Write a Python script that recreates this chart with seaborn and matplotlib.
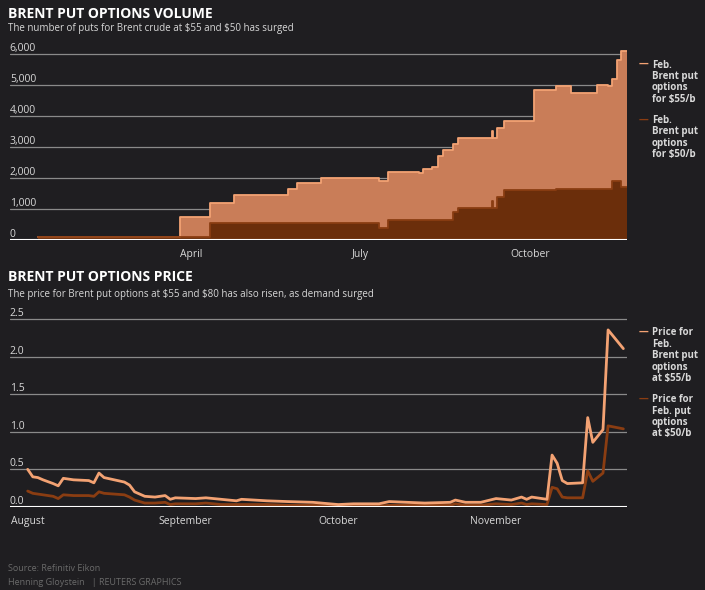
import pandas as pd
import matplotlib.pyplot as plt
import matplotlib.transforms as mtrans
import seaborn as sns

# volume data (step changes)
vol_dates = ["2019-01-08", "2019-03-26", "2019-04-11", "2019-04-24", "2019-05-23", "2019-05-28",
             "2019-06-10", "2019-07-11", "2019-07-16", "2019-08-02", "2019-08-04", "2019-08-09",
             "2019-08-12", "2019-08-15", "2019-08-20", "2019-08-23", "2019-09-10", "2019-09-11",
             "2019-09-13", "2019-09-17", "2019-10-03", "2019-10-15", "2019-10-23", "2019-11-06",
             "2019-11-12", "2019-11-14", "2019-11-17", "2019-11-19", "2019-11-22"]
vol_55 = [100, 750, 1200, 1450, 1650, 1850, 2000, 1900, 2200, 2150, 2300, 2350, 2700, 2900, 3100,
          3300, 3500, 3300, 3600, 3850, 4850, 4950, 4750, 5000, 4950, 5200, 5800, 6100, 6100]
vol_50 = [100, 100, 550, 550, 550, 550, 550, 400, 650, 650, 650, 650, 650, 650, 900,
          1050, 1250, 1050, 1400, 1600, 1600, 1650, 1650, 1650, 1650, 1900, 1900, 1700, 1700]
vol_ticks = [0, 1000, 2000, 3000, 4000, 5000, 6000]
vol_months = ["2019-04-01", "2019-07-01", "2019-10-01"]
vol_month_labels = ["April", "July", "October"]

# price data
price_dates = ["2019-08-01", "2019-08-02", "2019-08-03", "2019-08-04", "2019-08-06", "2019-08-07",
               "2019-08-08", "2019-08-10", "2019-08-13", "2019-08-14", "2019-08-15", "2019-08-16",
               "2019-08-20", "2019-08-21", "2019-08-22", "2019-08-24", "2019-08-26", "2019-08-28",
               "2019-08-29", "2019-08-30", "2019-09-03", "2019-09-05", "2019-09-08", "2019-09-11",
               "2019-09-12", "2019-09-17", "2019-09-21", "2019-09-26", "2019-10-01", "2019-10-04",
               "2019-10-09", "2019-10-11", "2019-10-18", "2019-10-23", "2019-10-24", "2019-10-26",
               "2019-10-29", "2019-11-01", "2019-11-04", "2019-11-06", "2019-11-07", "2019-11-08",
               "2019-11-11", "2019-11-12", "2019-11-13", "2019-11-14", "2019-11-15", "2019-11-18",
               "2019-11-19", "2019-11-20", "2019-11-22", "2019-11-23", "2019-11-26"]
price_55 = [0.50, 0.40, 0.39, 0.36, 0.31, 0.28, 0.38, 0.36, 0.35, 0.32, 0.45, 0.39,
            0.33, 0.29, 0.20, 0.14, 0.13, 0.15, 0.10, 0.12, 0.11, 0.12, 0.10, 0.08,
            0.10, 0.08, 0.07, 0.06, 0.03, 0.04, 0.04, 0.07, 0.05, 0.06, 0.09, 0.06,
            0.06, 0.11, 0.09, 0.13, 0.10, 0.13, 0.10, 0.69, 0.58, 0.35, 0.31, 0.32,
            1.19, 0.86, 1.03, 2.36, 2.11]
price_50 = [0.21, 0.18, 0.17, 0.16, 0.14, 0.11, 0.16, 0.15, 0.15, 0.14, 0.20, 0.18,
            0.16, 0.13, 0.09, 0.05, 0.05, 0.06, 0.03, 0.04, 0.04, 0.05, 0.03, 0.03,
            0.03, 0.03, 0.02, 0.02, 0.01, 0.01, 0.01, 0.02, 0.02, 0.02, 0.04, 0.02,
            0.02, 0.04, 0.03, 0.05, 0.03, 0.04, 0.03, 0.26, 0.24, 0.13, 0.12, 0.12,
            0.48, 0.34, 0.45, 1.08, 1.04]
price_ticks = [0.0, 0.5, 1.0, 1.5, 2.0, 2.5]
price_months = ["2019-08-01", "2019-09-01", "2019-10-01", "2019-11-01"]
price_month_labels = ["August", "September", "October", "November"]

BG = "#1f1e21"
LIGHT = "#f3a273"
LIGHT_FILL = "#c97d58"
DARK = "#8a3d12"
DARK_FILL = "#6b2e0b"
GRID = "#8a8a8a"
TXT = "#d8d8d8"

sns.set_style("dark")
plt.rcParams['font.family'] = ['Open Sans', 'DejaVu Sans']

vol = pd.DataFrame({"date": pd.to_datetime(vol_dates), "v55": vol_55, "v50": vol_50})
price = pd.DataFrame({"date": pd.to_datetime(price_dates), "p55": price_55, "p50": price_50})

fig = plt.figure(figsize=(7.05, 5.9), dpi=100, facecolor=BG)
ax1 = fig.add_axes([0.014, 0.593, 0.875, 0.329])
ax2 = fig.add_axes([0.014, 0.141, 0.875, 0.324])


def style_axis(ax, ticks, fmt):
    ax.set_facecolor(BG)
    for s in ax.spines.values():
        s.set_visible(False)
    ax.set_yticks([])
    trans = mtrans.blended_transform_factory(ax.transAxes, ax.transData)
    for t in ticks:
        if t > 0:
            ax.axhline(t, color=GRID, lw=0.9, zorder=0)
        ax.text(0.0, t, fmt(t), transform=trans, color=TXT, fontsize=7.5,
                ha="left", va="bottom")
    ax.axhline(0, color="white", lw=1.5, zorder=5)
    ax.grid(False)
    ax.set_xlabel("")
    ax.set_ylabel("")
    ax.tick_params(axis="x", colors=TXT, labelsize=7.5, length=3, width=0.8, color=GRID)


# top: volume areas
ax1.fill_between(vol["date"], vol["v55"], step="post", color=LIGHT_FILL, lw=0, zorder=2)
ax1.fill_between(vol["date"], vol["v50"], step="post", color=DARK_FILL, lw=0, zorder=3)
sns.lineplot(data=vol, x="date", y="v55", drawstyle="steps-post", color=LIGHT, lw=1.3, ax=ax1, zorder=4)
sns.lineplot(data=vol, x="date", y="v50", drawstyle="steps-post", color=DARK, lw=1.3, ax=ax1, zorder=4)
ax1.set_xlim(pd.Timestamp("2018-12-24"), pd.Timestamp("2019-11-22"))
ax1.set_ylim(0, 6250)
style_axis(ax1, vol_ticks, lambda t: f"{t:,}")
ax1.set_xticks(pd.to_datetime(vol_months))
ax1.set_xticklabels(vol_month_labels)

# bottom: prices
sns.lineplot(data=price, x="date", y="p50", color=DARK, lw=2, ax=ax2, zorder=3)
sns.lineplot(data=price, x="date", y="p55", color=LIGHT, lw=2, ax=ax2, zorder=4)
ax2.set_xlim(pd.Timestamp("2019-07-28 12:00"), pd.Timestamp("2019-11-26 16:00"))
ax2.set_ylim(0, 2.55)
style_axis(ax2, price_ticks, lambda t: f"{t:.1f}")
ax2.set_xticks(pd.to_datetime(price_months))
ax2.set_xticklabels(price_month_labels)

# titles
fig.text(0.012, 0.977, "BRENT PUT OPTIONS VOLUME", color="white", fontsize=10, fontweight="bold", va="center")
fig.text(0.012, 0.952, r"The number of puts for Brent crude at \$55 and \$50 has surged", color=TXT, fontsize=7, va="center")
fig.text(0.012, 0.530, "BRENT PUT OPTIONS PRICE", color="white", fontsize=10, fontweight="bold", va="center")
fig.text(0.012, 0.500, r"The price for Brent put options at \$55 and \$80 has also risen, as demand surged",
         color=TXT, fontsize=7, va="center")

# legends
def legend_item(y, color, text):
    fig.text(0.906, y + 0.003, "\u2014", color=color, fontsize=7, fontweight="bold", va="top", ha="left")
    fig.text(0.925, y, text, color=TXT, fontsize=7, fontweight="bold", va="top", ha="left",
             linespacing=1.05)

legend_item(0.899, LIGHT, "Feb.\nBrent put\noptions\nfor \\$55/b")
legend_item(0.805, DARK, "Feb.\nBrent put\noptions\nfor \\$50/b")
legend_item(0.445, LIGHT, "Price for\nFeb.\nBrent put\noptions\nat \\$55/b")
legend_item(0.332, DARK, "Price for\nFeb. put\noptions\nat \\$50/b")

fig.text(0.012, 0.037, "Source: Refinitiv Eikon", color="#6a6a6a", fontsize=6.5, va="center")
fig.text(0.012, 0.013, "Henning Gloystein   | REUTERS GRAPHICS", color="#6a6a6a", fontsize=6.5, va="center")

fig.savefig("out.png", dpi=100, facecolor=BG)
